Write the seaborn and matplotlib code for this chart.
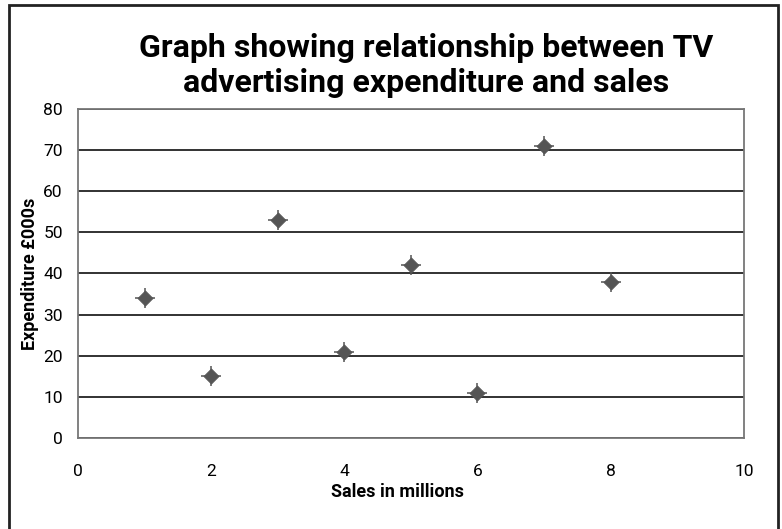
import matplotlib.pyplot as plt
import seaborn as sns
import pandas as pd
from matplotlib.patches import Rectangle

sns.set_style('white')
plt.rcParams['font.family'] = ['Roboto', 'DejaVu Sans']
plt.rcParams['text.color'] = 'black'
plt.rcParams['axes.labelcolor'] = 'black'

# data
sales = [1, 2, 3, 4, 5, 6, 7, 8]
expenditure = [34, 15, 53, 21, 42, 11, 71, 38]
df = pd.DataFrame({'Sales in millions': sales, 'Expenditure £000s': expenditure})

fig = plt.figure(figsize=(7.82, 5.29), dpi=100)
ax = fig.add_axes([0.0997, 0.172, 0.8515, 0.622])

# gridlines at every 10
ax.set_axisbelow(True)
ax.yaxis.grid(True, color='#222222', linewidth=1.3)
ax.xaxis.grid(False)

# star-like marker: diamond plus thin cross
sns.scatterplot(data=df, x='Sales in millions', y='Expenditure £000s', ax=ax,
                marker='+', s=220, color='#555555', linewidth=1.1, zorder=3)
sns.scatterplot(data=df, x='Sales in millions', y='Expenditure £000s', ax=ax,
                marker='D', s=60, color='#555555', edgecolor='#555555', linewidth=0.5, zorder=4)

ax.set_xlim(0, 10)
ax.set_ylim(0, 80)
ax.set_xticks(range(0, 11, 2))
ax.set_yticks(range(0, 81, 10))
for s in ax.spines.values():
    s.set_color('#777777')
    s.set_linewidth(1.3)
ax.tick_params(axis='both', length=0, labelsize=12.5, colors='black')
ax.tick_params(axis='x', pad=19)
ax.tick_params(axis='y', pad=11)

ax.set_xlabel('Sales in millions', fontsize=13, fontweight='bold')
ax.set_ylabel('Expenditure £000s', fontsize=13, fontweight='bold')
ax.xaxis.set_label_coords(0.48, -0.137)
ax.yaxis.set_label_coords(-0.059, 0.5)

fig.text(0.545, 0.876, 'Graph showing relationship between TV\nadvertising expenditure and sales',
         ha='center', va='center', fontsize=23, fontweight='bold', linespacing=1.22)

# outer frame
fig.patches.append(Rectangle((0.011, -0.05), 0.984, 1.04, transform=fig.transFigure,
                             fill=False, edgecolor='#222222', linewidth=2))

fig.savefig('out.png', dpi=100)
